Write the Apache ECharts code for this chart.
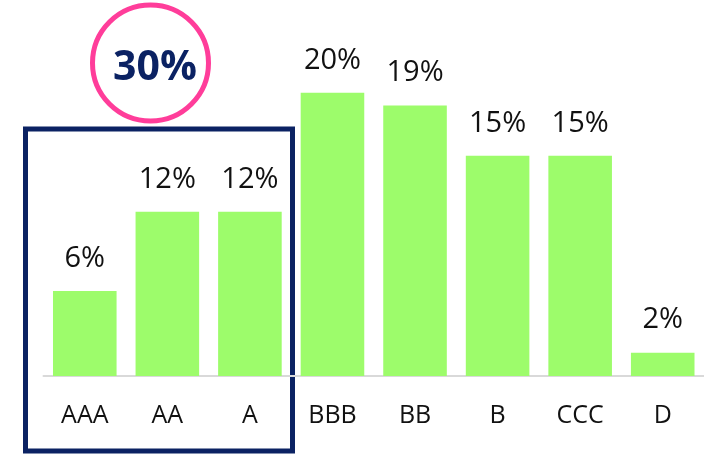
<!DOCTYPE html>
<html>
<head>
<meta charset="utf-8">
<script src="https://cdn.jsdelivr.net/npm/echarts@6/dist/echarts.min.js"></script>
<style>
  html, body { margin: 0; padding: 0; background: #fff; }
  #chart { width: 704px; height: 454px; }
</style>
</head>
<body>
<div id="chart"></div>
<script>
const categories = ['AAA', 'AA', 'A', 'BBB', 'BB', 'B', 'CCC', 'D'];
const shares = [6.0, 11.6, 11.6, 20.0, 19.1, 15.55, 15.55, 1.65];
const shareLabels = ['6%', '12%', '12%', '20%', '19%', '15%', '15%', '2%'];
const groupLabel = '30%';

const font = '"Open Sans", "Noto Sans", sans-serif';
const navy = '#0b2263';

const chart = echarts.init(document.getElementById('chart'));

chart.setOption({
  animation: false,
  backgroundColor: '#fff',
  grid: { left: 43.5, right: -3, top: 22, bottom: 78 },
  xAxis: {
    type: 'category',
    data: categories,
    axisTick: { show: false },
    axisLine: { lineStyle: { color: '#d9d9d9', width: 2 } },
    axisLabel: { color: '#111', fontSize: 25, fontFamily: font, margin: 27 },
  },
  yAxis: {
    type: 'value',
    min: 0,
    max: 25,
    show: false,
    splitLine: { show: false },
  },
  series: [
    {
      type: 'bar',
      data: shares,
      barCategoryGap: '23%',
      itemStyle: { color: '#9dfc6b' },
      label: {
        show: true,
        position: 'top',
        distance: 18,
        formatter: (p) => shareLabels[p.dataIndex],
        color: '#111',
        fontSize: 29,
        fontFamily: font,
      },
    },
  ],
  graphic: [
    {
      type: 'rect',
      shape: { x: 25.5, y: 129, width: 267, height: 322 },
      style: { fill: 'none', stroke: navy, lineWidth: 5 },
    },
    {
      type: 'circle',
      shape: { cx: 150.5, cy: 63, r: 58 },
      style: { fill: '#fff', stroke: '#ff3d9a', lineWidth: 5 },
    },
    {
      type: 'text',
      x: 155,
      y: 68,
      style: {
        text: groupLabel,
        fill: navy,
        font: 'bold 41px ' + font,
        align: 'center',
        verticalAlign: 'middle',
      },
    },
  ],
});
</script>
</body>
</html>
